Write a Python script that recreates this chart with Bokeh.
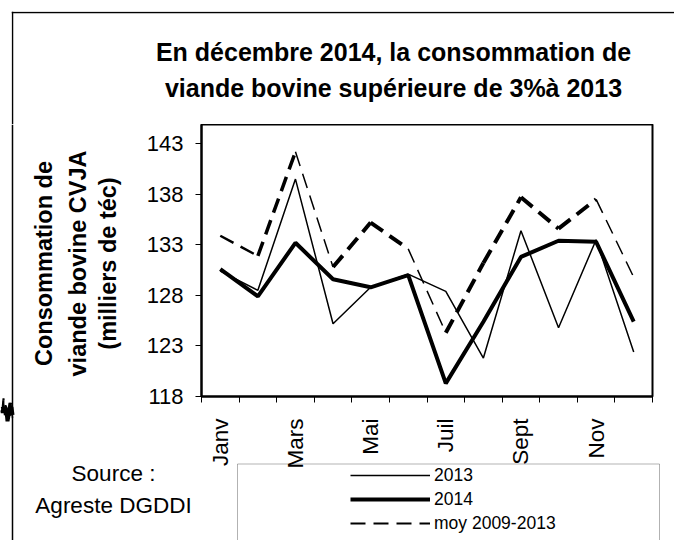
import math
from bokeh.plotting import figure
from bokeh.layouts import column, row
from bokeh.models import (Range1d, FixedTicker, BoxAnnotation, Label, Legend, LegendItem, Span,
                          ColumnDataSource)
from bokeh.embed import file_html
from bokeh.resources import INLINE

# ---- data ----
months = ["Janv", "Févr", "Mars", "Avr", "Mai", "Juin", "Juil", "Août", "Sept", "Oct", "Nov", "Déc"]
month_index = list(range(1, 13))
labelled_months = [1, 3, 5, 7, 9, 11]
y2013 = [130.4, 128.5, 139.5, 125.2, 128.8, 130.1, 128.4, 121.8, 134.4, 124.8, 133.5, 122.4]
y2014 = [130.6, 127.9, 133.2, 129.6, 128.8, 130.0, 119.3, 125.4, 131.8, 133.4, 133.3, 125.4]
moy = [133.9, 131.9, 142.2, 130.8, 135.2, 132.6, 124.3, 131.2, 137.7, 134.6, 137.5, 129.8]
yticks = [118, 123, 128, 133, 138, 143]
series_labels = ["2013", "2014", "moy 2009-2013"]
title_lines = ["En décembre 2014, la consommation de", "viande bovine supérieure de 3%à 2013"]
ylabel_lines = ["Consommation de", "viande bovine CVJA", "(milliers de téc)"]
source_lines = ["Source :", "Agreste DGDDI"]

# stroke width of each month-to-month piece of the dashed average line, as drawn in the original
moy_piece_widths = [2.5, 3.5, 1.5, 4, 4, 1.5, 4, 4, 4, 4, 1.5]

FONT = "Liberation Sans"
FRAME_LW = 1.5
PAGE_W, PAGE_H = 674, 540
FRAME_L, FRAME_T, FRAME_W, FRAME_H = 201, 124, 451, 272
FRAME_B = FRAME_T + FRAME_H          # 396
TOP_H = FRAME_T                      # title strip: 0..124
MID_H = 348                          # chart row: 124..472 (x labels need room)
BOT_Y = TOP_H                        # overlay strip: 124..540, transparent, over the chart row
LEFT_W = 130
DASH = "15 8"


def no_align(f):
    try:
        f.frame_align = False
    except Exception:
        pass


class Strip:
    """A text/decoration strip whose data units are pixels of the page."""

    def __init__(self, ox, oy, w, h, fl=0, ft=0, transparent=False):
        self.ox, self.oy, self.w, self.h, self.fl = ox, oy, w, h, fl
        f = figure(width=w, height=h, output_backend="svg", toolbar_location=None,
                   x_range=Range1d(0, w - fl), y_range=Range1d(0, h - ft),
                   min_border_left=fl, min_border_top=ft, min_border_right=0, min_border_bottom=0,
                   x_axis_type=None, y_axis_type=None)
        f.title.visible = False
        f.outline_line_color = None
        f.background_fill_color = None if transparent else "white"
        f.border_fill_color = None if transparent else "white"
        f.grid.visible = False
        no_align(f)
        self.fig = f

    def px(self, page_x):
        return page_x - self.ox - self.fl

    def py(self, page_y):
        return self.h - (page_y - self.oy)

    def vline(self, page_x):
        self.fig.add_layout(Span(location=self.px(page_x), dimension="height",
                                 line_color="black", line_width=FRAME_LW))

    def hline(self, page_y):
        self.fig.add_layout(Span(location=self.py(page_y), dimension="width",
                                 line_color="black", line_width=FRAME_LW))


# ---------- title strip ----------
ts = Strip(0, 0, PAGE_W, TOP_H, fl=11, ft=11)
ts.vline(12)
ts.hline(12)
for txt, yb in zip(title_lines, [51, 87]):
    ts.fig.add_layout(Label(x=ts.px(393), y=ts.py(yb), text=txt, text_align="center",
                            text_baseline="alphabetic", text_font=FONT, text_font_style="bold",
                            text_font_size="25px", text_color="black"))

# ---------- left strip (y axis title); its frame matches the chart frame rows ----------
BOTTOM_BORDER = MID_H - FRAME_H
pl = figure(width=LEFT_W, height=MID_H, output_backend="svg", toolbar_location=None,
            x_range=Range1d(0, LEFT_W), y_range=Range1d(0, FRAME_H),
            min_border_left=0, min_border_right=0, min_border_top=0,
            min_border_bottom=BOTTOM_BORDER, x_axis_type=None, y_axis_type=None)
pl.title.visible = False
pl.outline_line_color = None
pl.background_fill_color = "white"
pl.border_fill_color = "white"
pl.grid.visible = False
for txt, xc in zip(ylabel_lines, [43, 77, 107]):
    pl.add_layout(Label(x=xc, y=FRAME_B - 263, text=txt, angle=math.pi / 2,
                        text_align="center", text_baseline="middle",
                        text_font=FONT, text_font_style="bold", text_font_size="23.5px",
                        text_color="black"))

# ---------- main chart ----------
MW = PAGE_W - LEFT_W
FL = FRAME_L - LEFT_W
p = figure(width=MW, height=MID_H, output_backend="svg", toolbar_location=None,
           x_range=Range1d(0.5, 12.5), y_range=Range1d(118, 144.9),
           min_border_left=FL, min_border_right=MW - FL - FRAME_W, min_border_top=0,
           min_border_bottom=BOTTOM_BORDER)
p.title.visible = False
p.background_fill_color = "white"
p.border_fill_color = "white"
p.outline_line_color = "black"
p.outline_line_width = 2
p.xgrid.visible = False
p.ygrid.visible = False

xa = p.xaxis[0]
xa.ticker = FixedTicker(ticks=labelled_months, minor_ticks=[i + 0.5 for i in range(0, 13)])
xa.major_label_overrides = {i: months[i - 1] for i in labelled_months}
xa.major_label_orientation = math.pi / 2
xa.major_tick_line_color = None
xa.major_tick_out = 0
xa.major_tick_in = 0
xa.minor_tick_out = 6
xa.minor_tick_in = 0
xa.minor_tick_line_color = "black"
xa.major_label_standoff = 16
xa.axis_line_width = 2
xa.major_label_text_font = FONT
xa.major_label_text_font_size = "22.5px"
xa.major_label_text_color = "black"

ya = p.yaxis[0]
ya.ticker = FixedTicker(ticks=yticks)
ya.major_tick_out = 6
ya.major_tick_in = 0
ya.minor_tick_line_color = None
ya.major_label_standoff = 12
ya.axis_line_width = 2
ya.major_label_text_font = FONT
ya.major_label_text_font_size = "22px"
ya.major_label_text_color = "black"

p.line(month_index, y2013, line_color="black", line_width=1.5)
p.line(month_index, y2014, line_color="black", line_width=4)
moy_src = ColumnDataSource(data=dict(
    xs=[month_index[i:i + 2] for i in range(len(moy) - 1)],
    ys=[moy[i:i + 2] for i in range(len(moy) - 1)],
    w=moy_piece_widths))
p.multi_line(xs="xs", ys="ys", source=moy_src, line_color="black", line_width="w", line_dash=DASH)

# ---------- overlay strip (frame edge, source, legend): transparent, pulled up over the chart row ----------
bs = Strip(0, BOT_Y, PAGE_W, PAGE_H - BOT_Y, transparent=True)
overlap = TOP_H + MID_H - BOT_Y
try:
    bs.fig.margin = (-overlap, 0, 0, 0)
except Exception:
    bs.fig.styles = {"margin-top": "-%dpx" % overlap}
bs.vline(12)
bs.fig.add_layout(BoxAnnotation(left=bs.px(237), right=bs.px(659), top=bs.py(463.5), bottom=-40,
                                fill_color=None, line_color="black", line_width=1))
# legend glyph renderers (same data; it lies outside this strip's visible range)
legend_styles = [dict(line_color="black", line_width=1.5),
                 dict(line_color="black", line_width=4),
                 dict(line_color="black", line_width=2, line_dash=DASH)]
leg_rs = [bs.fig.line(month_index, ys, **st) for ys, st in zip([y2013, y2014, moy], legend_styles)]
legend = Legend(items=[LegendItem(label=lab, renderers=[r]) for lab, r in zip(series_labels, leg_rs)],
                location=(int(bs.px(350)), int(bs.py(463 + 72))), padding=0, margin=0, spacing=0,
                glyph_width=80, glyph_height=24, label_height=24, label_standoff=4,
                label_text_font=FONT, label_text_font_size="17.5px", label_text_color="black",
                border_line_color=None, background_fill_alpha=0)
bs.fig.add_layout(legend, "center")
for txt, yc in zip(source_lines, [473, 505]):
    bs.fig.add_layout(Label(x=bs.px(113), y=bs.py(yc), text=txt, text_align="center",
                            text_baseline="middle", text_font=FONT, text_font_size="22.5px",
                            text_color="black"))

layout = column(ts.fig, row(pl, p, spacing=0), bs.fig, spacing=0)
open("out.html", "w").write(file_html(layout, INLINE))
